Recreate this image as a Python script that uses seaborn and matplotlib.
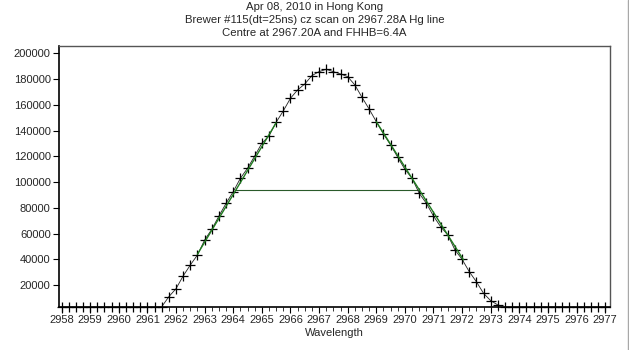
import numpy as np
import pandas as pd
import matplotlib
matplotlib.use("Agg")
import matplotlib.pyplot as plt
from matplotlib.lines import Line2D
from matplotlib.ticker import MultipleLocator
import seaborn as sns

# ---- data ----
wavelength = [2958.00, 2958.25, 2958.50, 2958.75, 2959.00, 2959.25, 2959.50, 2959.75,
              2960.00, 2960.25, 2960.50, 2960.75, 2961.00, 2961.25, 2961.50, 2961.75,
              2962.00, 2962.25, 2962.50, 2962.75, 2963.00, 2963.25, 2963.50, 2963.75,
              2964.00, 2964.25, 2964.50, 2964.75, 2965.00, 2965.25, 2965.50, 2965.75,
              2966.00, 2966.25, 2966.50, 2966.75, 2967.00, 2967.25, 2967.50, 2967.75,
              2968.00, 2968.25, 2968.50, 2968.75, 2969.00, 2969.25, 2969.50, 2969.75,
              2970.00, 2970.25, 2970.50, 2970.75, 2971.00, 2971.25, 2971.50, 2971.75,
              2972.00, 2972.25, 2972.50, 2972.75, 2973.00, 2973.25, 2973.50, 2973.75,
              2974.00, 2974.25, 2974.50, 2974.75, 2975.00, 2975.25, 2975.50, 2975.75,
              2976.00, 2976.25, 2976.50, 2976.75, 2977.00]
counts = [3000, 3000, 3000, 3000, 3000, 3000, 3000, 3000,
          3000, 3000, 3000, 3000, 3000, 3000, 3200, 11000,
          17200, 27100, 35600, 43400, 55000, 63300, 73600, 83500,
          92500, 102900, 110700, 120200, 130100, 135800, 146400, 155200,
          165000, 171500, 176100, 182600, 185700, 187500, 185700, 183900,
          181800, 175400, 165800, 156700, 146900, 137300, 128800, 119200,
          109900, 102900, 91300, 83500, 73600, 65300, 58900, 47300,
          40000, 30400, 22600, 13600, 7900, 4600, 3000, 3000,
          3000, 3000, 3000, 3000, 3000, 3000, 3000, 3000,
          3000, 3000, 3000, 3000, 3000]

left_fit_x = [2962.75, 2965.50]
left_fit_y = [44000, 146000]
right_fit_x = [2969.00, 2972.05]
right_fit_y = [146900, 39500]
half_x = [2964.06, 2970.47]
half_y = [94200, 94200]

title_lines = ["Apr 08, 2010 in Hong Kong",
               "Brewer #115(dt=25ns) cz scan on 2967.28A Hg line",
               "Centre at 2967.20A and FHHB=6.4A"]
x_ticks = list(range(2958, 2978))
y_ticks = [20000, 40000, 60000, 80000, 100000, 120000, 140000, 160000, 180000, 200000]

df = pd.DataFrame({"Wavelength": wavelength, "Counts": counts})

sns.set_theme(style="white")
plt.rcParams["font.family"] = ["Liberation Sans", "DejaVu Sans"]

fig = plt.figure(figsize=(6.29, 3.50), dpi=100)
ax = fig.add_axes([59 / 629, 1 - 307 / 350, (610 - 59) / 629, (307 - 46) / 350])

green = "#1e7a1e"
ax.plot(left_fit_x, left_fit_y, color=green, lw=1.0, zorder=4)
ax.plot(right_fit_x, right_fit_y, color=green, lw=1.0, zorder=4)
ax.plot(half_x, half_y, color="#2a5a2a", lw=0.8, zorder=2)

sns.lineplot(data=df, x="Wavelength", y="Counts", ax=ax, color="#222222",
             lw=0.6, marker="+", markersize=7, markeredgewidth=0.9,
             markeredgecolor="black", sort=False, zorder=3, clip_on=False)

ax.set_xlim(2957.91, 2977.17)
ax.set_ylim(3000, 205600)
ax.set_xticks(x_ticks)
ax.set_xticklabels([str(t) for t in x_ticks])
ax.xaxis.set_minor_locator(MultipleLocator(0.25))
ax.set_yticks(y_ticks)
ax.set_yticklabels([str(t) for t in y_ticks])

ax.tick_params(axis="both", which="major", direction="out", length=4, width=0.8,
               color="black", labelsize=8, pad=2, bottom=True, left=True)
ax.tick_params(axis="x", which="minor", direction="out", length=3, width=0.7,
               color="#333333", bottom=True)
ax.set_xlabel("Wavelength", fontsize=8, labelpad=2)
ax.set_ylabel("")

for side in ["left", "bottom"]:
    ax.spines[side].set_color("black")
    ax.spines[side].set_linewidth(1.2)
for side in ["top", "right"]:
    ax.spines[side].set_color("#555555")
    ax.spines[side].set_linewidth(1.0)

for i, line in enumerate(title_lines):
    fig.text(0.5, 1 - (7 + 13 * i) / 350, line, ha="center", va="center", fontsize=8.2)

fig.add_artist(Line2D([627.5 / 629, 627.5 / 629], [0, 1], color="#a8a8a8", lw=1.0))

fig.savefig("out.png", dpi=100)
